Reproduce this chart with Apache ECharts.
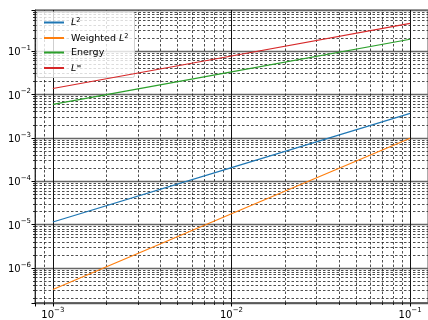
<!DOCTYPE html>
<html>
<head>
<meta charset="utf-8">
<script src="https://cdn.jsdelivr.net/npm/echarts@6/dist/echarts.min.js"></script>
<style>
html,body{margin:0;padding:0;background:#fff;}
#chart{width:428px;height:320px;}
</style>
</head>
<body>
<div id="chart"></div>
<script>
// ---- data ----
const hValues = [0.001, 0.01, 0.1];
const seriesNames = ['L2', 'Weighted L2', 'Energy', 'Linf'];
const l2Err = [1.15e-5, 2.05e-4, 3.66e-3];
const weightedL2Err = [3.2e-7, 1.78e-5, 9.8e-4];
const energyErr = [5.9e-3, 3.3e-2, 0.187];
const linfErr = [1.37e-2, 7.7e-2, 0.435];
const seriesColors = ['#1f77b4', '#ff7f0e', '#2ca02c', '#d62728'];
const xMin = Math.pow(10, -3.1), xMax = Math.pow(10, -0.9);
const yMin = Math.pow(10, -6.807), yMax = Math.pow(10, -0.054);

// minor grid positions (2..9 x 10^k) inside the axis ranges
const xMinor = [], yMinor = [];
for (let k = -4; k <= 0; k++) for (let m = 2; m <= 9; m++) {
  const v = m * Math.pow(10, k);
  if (v > xMin * 1.001 && v < xMax) xMinor.push(v);
}
for (let k = -8; k <= 0; k++) for (let m = 2; m <= 9; m++) {
  const v = m * Math.pow(10, k);
  if (v > yMin && v < yMax) yMinor.push(v);
}

const FONT = 'DejaVu Sans';
const allSeries = [l2Err, weightedL2Err, energyErr, linfErr];

function powLabel(v) {
  const e = Math.round(Math.log10(v));
  return '{b|10}{s|' + (e < 0 ? '\u2212' + (-e) : e) + '}';
}
const axisRich = {
  b: {fontSize: 10, fontFamily: FONT, color: '#000', lineHeight: 13, verticalAlign: 'bottom'},
  s: {fontSize: 7, fontFamily: FONT, color: '#000', lineHeight: 13, verticalAlign: 'top'}
};

const legendLabels = {
  'L2': '{i|L}{s|2}',
  'Weighted L2': '{n|Weighted }{i|L}{s|2}',
  'Energy': '{n|Energy}',
  'Linf': '{i|L}{s|\u221e}'
};

const series = seriesNames.map((name, i) => ({
  name: name,
  type: 'line',
  data: hValues.map((h, j) => [h, allSeries[i][j]]),
  symbol: 'none',
  lineStyle: {color: seriesColors[i], width: 1.2},
  itemStyle: {color: seriesColors[i]},
  z: 5,
  animation: false
}));

const minorSegs = xMinor.map(v => ({coords: [[v, yMin], [v, yMax]]}))
  .concat(yMinor.map(v => ({coords: [[xMin, v], [xMax, v]]})));
series.push({
  name: 'minorgrid',
  type: 'lines',
  coordinateSystem: 'cartesian2d',
  data: minorSegs,
  silent: true,
  z: 1,
  animation: false,
  lineStyle: {color: '#222', width: 0.8, type: [2.5, 2], opacity: 1}
});

const chart = echarts.init(document.getElementById('chart'), null, {renderer: 'canvas'});
chart.setOption({
  animation: false,
  backgroundColor: '#fff',
  grid: {left: 35, top: 10, width: 396, bottom: 14, show: true, borderColor: '#555', borderWidth: 1},
  legend: {
    data: seriesNames,
    orient: 'vertical',
    left: 37, top: 12,
    itemWidth: 20, itemHeight: 10, itemGap: 4.5,
    padding: [5, 6, 4, 6],
    backgroundColor: 'rgba(255,255,255,0.8)',
    borderColor: '#d0d0d0', borderWidth: 1, borderRadius: 2,
    itemStyle: {opacity: 0},
    formatter: n => legendLabels[n],
    textStyle: {
      fontFamily: FONT, fontSize: 9.5, color: '#000', padding: [0, 0, 0, 2],
      rich: {
        n: {fontFamily: FONT, fontSize: 9.5, color: '#000', lineHeight: 11, verticalAlign: 'bottom'},
        i: {fontFamily: FONT, fontSize: 9.5, fontStyle: 'italic', color: '#000', lineHeight: 11, verticalAlign: 'bottom'},
        s: {fontFamily: FONT, fontSize: 6.6, color: '#000', lineHeight: 11, verticalAlign: 'top'}
      }
    }
  },
  xAxis: {
    type: 'log', min: xMin, max: xMax, logBase: 10,
    axisLine: {show: true, lineStyle: {color: '#555', width: 1.5}},
    axisTick: {show: true, inside: false, length: 3.5, lineStyle: {color: '#000'}},
    axisLabel: {formatter: powLabel, rich: axisRich, margin: 4, showMinLabel: false, showMaxLabel: false},
    splitLine: {show: true, lineStyle: {color: '#111', width: 1}},
    minorTick: {show: true, splitNumber: 9, length: 2, lineStyle: {color: '#000', width: 0.8}}
  },
  yAxis: {
    type: 'log', min: yMin, max: yMax, logBase: 10,
    axisLine: {show: true, lineStyle: {color: '#333', width: 1}},
    axisTick: {show: true, inside: false, length: 3.5, lineStyle: {color: '#000'}},
    axisLabel: {formatter: powLabel, rich: axisRich, margin: 4, showMinLabel: false, showMaxLabel: false},
    splitLine: {show: true, lineStyle: {color: '#666', width: 1.3}},
    minorTick: {show: true, splitNumber: 9, length: 2, lineStyle: {color: '#000', width: 0.8}}
  },
  series: series
});
</script>
</body>
</html>
